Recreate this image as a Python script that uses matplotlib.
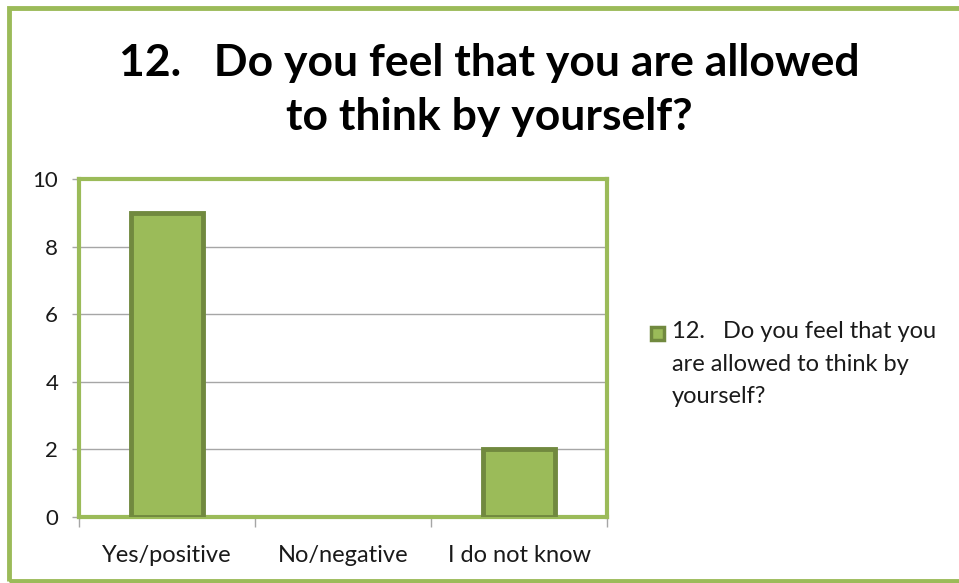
import matplotlib
matplotlib.use("Agg")
import matplotlib.pyplot as plt
from matplotlib.patches import Rectangle
import numpy as np

categories = ["Yes/positive", "No/negative", "I do not know"]
counts = [9, 0, 2]
series_name = "12.   Do you feel that you\nare allowed to think by\nyourself?"
title = "12.   Do you feel that you are allowed\nto think by yourself?"
y_ticks = [0, 2, 4, 6, 8, 10]

fill = "#9BBB59"
edge = "#71893F"
grid_gray = "#A6A6A6"
font = ["Lato", "DejaVu Sans"]

W, H = 959, 583
fig = plt.figure(figsize=(W / 100, H / 100), dpi=100)
fig.patch.set_facecolor("white")

# outer chart border
fig.patches.append(Rectangle((9 / W, 2 / H), 1.2, 1 - 10 / H, transform=fig.transFigure,
                             fill=False, edgecolor=fill, linewidth=3.5, zorder=0))

left, right, top, bottom = 79, 607, 179, 517
ax = fig.add_axes([left / W, 1 - bottom / H, (right - left) / W, (bottom - top) / H])

x = np.arange(len(categories))
edges = [edge if c > 0 else "none" for c in counts]
ax.bar(x, counts, width=0.41, color=fill, edgecolor=edges, linewidth=3.5, zorder=3)

ax.set_xlim(-0.5, len(categories) - 0.5)
ax.set_ylim(0, 10)
ax.set_yticks(y_ticks)
ax.set_yticklabels([str(v) for v in y_ticks], family=font, fontsize=16, color="#1a1a1a")
ax.yaxis.grid(True, color=grid_gray, linewidth=1, zorder=0)
ax.set_axisbelow(True)

# category labels centered, ticks at category boundaries
ax.set_xticks(x)
ax.set_xticklabels(categories, family=font, fontsize=17, color="#1a1a1a")
ax.tick_params(axis="x", length=0, pad=20)
ax.set_xticks(np.arange(len(categories) + 1) - 0.5, minor=True)
ax.tick_params(axis="x", which="minor", length=7, color=grid_gray, width=1)
ax.tick_params(axis="y", length=5, color=grid_gray, width=1, pad=10)

for s in ax.spines.values():
    s.set_color(fill)
    s.set_linewidth(3)

fig.text(0.51, 1 - 90 / H, title, ha="center", va="center", family=font,
         fontweight="bold", fontsize=32, linespacing=1.45, color="black")

fig.text(672 / W, 1 - 321 / H, series_name, ha="left", va="top", family=font,
         fontsize=17, linespacing=1.68, color="#1a1a1a")
fig.patches.append(Rectangle((651 / W, 1 - 340 / H), 13 / W, 13 / H, transform=fig.transFigure,
                             facecolor=fill, edgecolor=edge, linewidth=2.5))

fig.savefig("out.png", dpi=100, facecolor="white")
